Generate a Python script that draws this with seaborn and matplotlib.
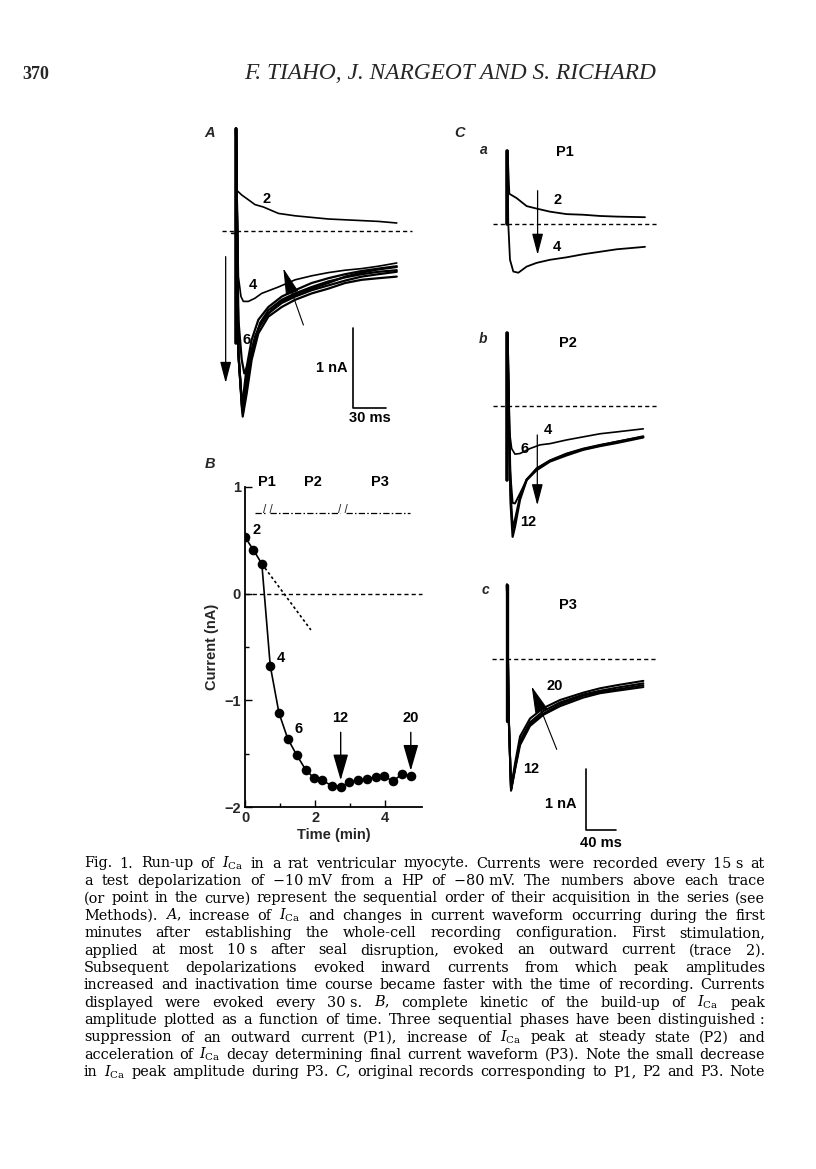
import numpy as np
import pandas as pd
import matplotlib
matplotlib.use("Agg")
import matplotlib.pyplot as plt
from matplotlib.patches import ArrowStyle
import seaborn as sns

W, H = 816, 1169

# ---------------- data: panel B (run-up of peak current) ----------------
B_time = [0.0, 0.24, 0.48, 0.72, 0.97, 1.22, 1.47, 1.73, 1.97, 2.21, 2.47, 2.73,
          2.97, 3.23, 3.48, 3.73, 3.97, 4.22, 4.48, 4.73]
B_current = [0.53, 0.41, 0.28, -0.675, -1.12, -1.36, -1.51, -1.65, -1.73, -1.75, -1.80, -1.81,
             -1.77, -1.75, -1.74, -1.72, -1.71, -1.76, -1.69, -1.71]
B_extrap_t = [0.48, 1.88]
B_extrap_i = [0.28, -0.34]
B_zero_t = [0.0, 5.05]
B_phase_y = 0.755
B_phase_segments = [(0.28, 0.57), (0.71, 2.72), (2.88, 4.70)]
B_phase_breaks = [0.64, 2.80]
B_phase_labels = ["P1", "P2", "P3"]
B_phase_label_t = [0.62, 1.95, 3.85]
B_point_labels = ["2", "4", "6"]
B_point_label_xy = [(0.33, 0.60), (1.02, -0.60), (1.53, -1.27)]
B_arrow_labels = ["12", "20"]
B_arrow_t = [2.73, 4.73]
B_arrow_from = -1.30
B_arrow_to = [-1.75, -1.66]

# ---------------- data: panel A traces (ms, nA) ----------------
A_stub_t = [-3.7, 0.0, 0.3]
A_stub_i = [-0.03, -0.03, 1.28]
A2_t = [0.3, 0.9, 5.6, 11.8, 17.9, 25.7, 39.6, 55.1, 70.5, 86.0, 101.5, 117.0, 132.4, 149.4]
A2_i = [1.28, 0.51, 0.45, 0.39, 0.33, 0.30, 0.22, 0.19, 0.17, 0.15, 0.14, 0.13, 0.12, 0.10]
A4_t = [0.3, 2.5, 4.9, 7.1, 11.8, 17.9, 24.1, 39.6, 55.1, 70.5, 86.0, 101.5, 116.9, 132.4, 149.4]
A4_i = [1.28, -0.57, -0.82, -0.88, -0.88, -0.84, -0.78, -0.70, -0.61, -0.56, -0.52, -0.49, -0.47, -0.44, -0.40]
A6_t = [0.3, 2.5, 5.6, 8.0, 11.8, 17.9, 24.1, 33.4, 42.7, 55.1, 70.5, 86.0, 101.5, 116.9, 132.4, 149.4]
A6_i = [1.28, -1.11, -1.61, -1.78, -1.66, -1.32, -1.13, -0.99, -0.88, -0.80, -0.72, -0.65, -0.57, -0.52, -0.48, -0.45]
A8_t = [0.3, 2.5, 6.5, 10.2, 14.8, 21.0, 30.3, 42.7, 55.1, 70.5, 86.0, 101.5, 116.9, 132.4, 149.4]
A8_i = [1.28, -1.53, -2.32, -2.03, -1.61, -1.28, -1.07, -0.95, -0.86, -0.78, -0.72, -0.65, -0.61, -0.59, -0.57]
A10_t = [0.3, 2.5, 6.5, 11.8, 16.4, 22.6, 30.3, 42.7, 55.1, 70.5, 86.0, 101.5, 116.9, 132.4, 149.4]
A10_i = [1.28, -1.53, -2.28, -1.78, -1.45, -1.15, -0.99, -0.86, -0.78, -0.70, -0.63, -0.58, -0.54, -0.51, -0.49]
A12_t = [0.3, 2.5, 5.9, 10.2, 14.8, 21.0, 30.3, 42.7, 55.1, 70.5, 86.0, 101.5, 116.9, 132.4, 149.4]
A12_i = [1.28, -1.53, -2.20, -1.70, -1.36, -1.11, -0.95, -0.82, -0.74, -0.65, -0.59, -0.54, -0.50, -0.47, -0.44]
A14_i = [1.28, -1.53, -2.24, -1.82, -1.49, -1.22, -1.03, -0.90, -0.82, -0.74, -0.68, -0.62, -0.57, -0.54, -0.51]
A_base_t = [-13.0, 163.3]
A_labels = ["2", "4", "6"]
A_label_xy = [(28.8, 0.40), (15.5, -0.675), (10.2, -1.36)]
A_down_arrow = ((-9.3, -0.32), (-9.3, -1.90))
A_up_arrow = ((62.8, -1.175), (44.2, -0.467))
A_bar_t, A_bar_i = 109.2, -2.217
A_bar_len_ms, A_bar_len_nA = 30, 1

# ---------------- data: panel C traces (ms, nA) ----------------
Ca2_t = [0.3, 2.7, 12.4, 25.8, 39.1, 56.9, 79.1, 101.3, 123.6, 145.8, 183.6]
Ca2_i = [1.19, 0.49, 0.42, 0.29, 0.25, 0.20, 0.16, 0.15, 0.13, 0.12, 0.11]
Ca4_t = [0.3, 1.3, 3.6, 8.0, 14.7, 25.8, 39.1, 56.9, 79.1, 101.3, 123.6, 145.8, 183.6]
Ca4_i = [1.19, 0.0, -0.58, -0.77, -0.79, -0.69, -0.63, -0.58, -0.54, -0.49, -0.45, -0.41, -0.37]

Cb4_t = [0.3, 2.7, 5.8, 10.2, 16.9, 30.2, 43.6, 56.9, 79.1, 101.3, 123.6, 145.8, 181.3]
Cb4_i = [1.18, -0.39, -0.69, -0.78, -0.77, -0.69, -0.63, -0.61, -0.55, -0.50, -0.45, -0.42, -0.37]
Cb6_t = [0.3, 3.6, 7.1, 10.2, 16.9, 25.8, 39.1, 56.9, 79.1, 101.3, 123.6, 145.8, 181.3]
Cb6_i = [1.18, -1.04, -1.57, -1.58, -1.42, -1.20, -1.01, -0.88, -0.77, -0.69, -0.63, -0.58, -0.49]
Cb8_t = [0.3, 4.4, 7.1, 10.2, 16.9, 25.8, 39.1, 56.9, 79.1, 101.3, 123.6, 145.8, 181.3]
Cb8_i = [1.18, -1.42, -1.98, -1.85, -1.47, -1.19, -1.02, -0.89, -0.78, -0.70, -0.64, -0.58, -0.50]
Cb12_i = [1.18, -1.58, -2.12, -1.96, -1.52, -1.20, -1.04, -0.90, -0.80, -0.71, -0.65, -0.60, -0.51]

Cc_t = [0.3, 2.7, 5.8, 11.1, 17.8, 31.1, 48.9, 71.1, 102.2, 124.4, 146.7, 182.2]
Cc12_i = [1.21, -0.93, -2.13, -1.79, -1.39, -1.08, -0.90, -0.76, -0.62, -0.55, -0.51, -0.45]
Cc14_i = [1.21, -0.93, -2.12, -1.77, -1.35, -1.05, -0.88, -0.73, -0.59, -0.53, -0.49, -0.42]
Cc16_i = [1.21, -0.93, -2.11, -1.75, -1.32, -1.02, -0.84, -0.70, -0.57, -0.51, -0.46, -0.39]
Cc20_i = [1.21, -0.93, -2.08, -1.69, -1.25, -0.96, -0.79, -0.66, -0.54, -0.47, -0.42, -0.35]
C_base_t = [-19.5, 201.5]
Ca_labels = ["2", "4"]; Ca_label_xy = [(66.7, 0.39), (66.7, -0.38)]
Ca_arrow = ((40.4, 0.54), (40.4, -0.50))
Cb_labels = ["4", "6", "12"]; Cb_label_xy = [(53.8, -0.39), (23.6, -0.69), (28.0, -1.88)]
Cb_arrow = ((40.0, -0.47), (40.0, -1.61))
Cc_labels = ["20", "12"]; Cc_label_xy = [(64.4, -0.44), (33.3, -1.77)]
Cc_arrow = ((66.7, -1.46), (33.3, -0.44))
Cc_bar_t, Cc_bar_i = 105.3, -2.77
Cc_bar_len_ms, Cc_bar_len_nA = 40, 1

# ---------------- text ----------------
page_number = "370"
running_head = "F. TIAHO, J. NARGEOT AND S. RICHARD"
ICa = r"$I_{\mathrm{Ca}}$"
NB = "\u00a0"
caption_lines = [
    f"Fig. 1. Run-up of {ICa} in a rat ventricular myocyte. Currents were recorded every 15{NB}s at",
    f"a test depolarization of \u221210{NB}mV from a HP of \u221280{NB}mV. The numbers above each trace",
    "(or point in the curve) represent the sequential order of their acquisition in the series (see",
    f"Methods). $A$, increase of {ICa} and changes in current waveform occurring during the first",
    "minutes after establishing the whole-cell recording configuration. First stimulation,",
    f"applied at most 10{NB}s after seal disruption, evoked an outward current (trace 2).",
    "Subsequent depolarizations evoked inward currents from which peak amplitudes",
    "increased and inactivation time course became faster with the time of recording. Currents",
    f"displayed were evoked every 30{NB}s. $B$, complete kinetic of the build-up of {ICa} peak",
    f"amplitude plotted as a function of time. Three sequential phases have been distinguished{NB}:",
    f"suppression of an outward current (P1), increase of {ICa} peak at steady state (P2) and",
    f"acceleration of {ICa} decay determining final current waveform (P3). Note the small decrease",
    f"in {ICa} peak amplitude during P3. $C$, original records corresponding to P1, P2 and P3. Note",
]

# ---------------- style ----------------
sns.set_theme(style="white")
plt.rcParams["font.family"] = ["Liberation Sans", "DejaVu Sans"]
plt.rcParams["mathtext.fontset"] = "dejavuserif"
plt.rcParams["axes.unicode_minus"] = True
SANS = ["Liberation Sans", "DejaVu Sans"]
LAB = dict(family=SANS, fontsize=10.5, fontweight="bold", color="black")

fig = plt.figure(figsize=(W / 100, H / 100), dpi=100)
fig.patch.set_facecolor("white")


def px_axes(box):
    x0, y0, x1, y1 = box
    ax = fig.add_axes([x0 / W, 1 - y1 / H, (x1 - x0) / W, (y1 - y0) / H])
    ax.set_facecolor("none")
    return ax


def trace_axes(box, origin, scale):
    ax = px_axes(box)
    x0, y0, x1, y1 = box
    ox, oy = origin
    sx, sy = scale
    ax.set_xlim((x0 - ox) / sx, (x1 - ox) / sx)
    ax.set_ylim((oy - y1) / sy, (oy - y0) / sy)
    ax.axis("off")
    return ax


def trace(ax, t, i, lw=1.4):
    sns.lineplot(x=t, y=i, ax=ax, color="black", lw=lw, sort=False,
                 estimator=None, legend=False)


def arrow(ax, start, end, hl=1.0, hw=0.26, lw=0.9):
    ax.annotate("", xy=end, xytext=start,
                arrowprops=dict(arrowstyle=ArrowStyle("-|>", head_length=hl, head_width=hw),
                                mutation_scale=13, lw=lw, color="black",
                                shrinkA=0, shrinkB=0), annotation_clip=False)


def baseline(ax, ts):
    ax.plot(ts, [0, 0], color="black", lw=1.0, ls=(0, (3, 2.2)))


# ---------------- panel A ----------------
axA = trace_axes((200, 120, 430, 440), (235.7, 231.0), (1.078, 80.0))
baseline(axA, A_base_t)
trace(axA, A_stub_t, A_stub_i, lw=1.2)
for t, i in [(A8_t, A8_i), (A10_t, A10_i), (A12_t, A14_i), (A12_t, A12_i), (A6_t, A6_i)]:
    trace(axA, t, i, lw=1.6)
trace(axA, A4_t, A4_i, lw=1.2)
trace(axA, A2_t, A2_i, lw=1.2)
axA.plot([0.15, 0.15], [1.28, -1.4], color="black", lw=2.6)
for s, (x, y) in zip(A_labels, A_label_xy):
    axA.text(x, y, s, ha="center", va="center", **LAB)
arrow(axA, *A_down_arrow)
arrow(axA, *A_up_arrow, hl=1.3, hw=0.32, lw=0.8)
axA.plot([A_bar_t, A_bar_t, A_bar_t + A_bar_len_ms],
         [A_bar_i + A_bar_len_nA, A_bar_i, A_bar_i], color="black", lw=1.2)
axA.text(A_bar_t - 5, A_bar_i + 0.5 * A_bar_len_nA, "1 nA", ha="right", va="center", **LAB)
axA.text(A_bar_t + 0.5 * A_bar_len_ms, A_bar_i - 0.12, "30 ms", ha="center", va="center", **LAB)

# ---------------- panel C ----------------
axCa = trace_axes((480, 130, 680, 310), (507.3, 224.0), (0.75, 61.7))
baseline(axCa, C_base_t)
trace(axCa, Ca4_t, Ca4_i, lw=1.3)
trace(axCa, Ca2_t, Ca2_i, lw=1.3)
axCa.plot([0.2, 0.2], [1.19, 0.0], color="black", lw=2.6)
for s, (x, y) in zip(Ca_labels, Ca_label_xy):
    axCa.text(x, y, s, ha="center", va="center", **LAB)
axCa.text(76.9, 1.17, "P1", ha="center", va="center", **LAB)
arrow(axCa, *Ca_arrow)

axCb = trace_axes((480, 325, 680, 560), (507.3, 406.0), (0.75, 61.7))
baseline(axCb, C_base_t)
trace(axCb, Cb8_t, Cb12_i, lw=1.6)
trace(axCb, Cb8_t, Cb8_i, lw=1.6)
trace(axCb, Cb6_t, Cb6_i, lw=1.4)
trace(axCb, Cb4_t, Cb4_i, lw=1.2)
axCb.plot([0.2, 0.2], [1.18, -1.2], color="black", lw=2.6)
for s, (x, y) in zip(Cb_labels, Cb_label_xy):
    axCb.text(x, y, s, ha="center", va="center", **LAB)
axCb.text(81.3, 1.02, "P2", ha="center", va="center", **LAB)
arrow(axCb, *Cb_arrow)

axCc = trace_axes((480, 575, 680, 850), (506.7, 659.3), (0.75, 61.7))
baseline(axCc, C_base_t)
for ci in [Cc12_i, Cc14_i, Cc16_i, Cc20_i]:
    trace(axCc, Cc_t, ci, lw=1.5)
axCc.plot([0.2, 0.2], [1.21, -1.0], color="black", lw=2.4)
for s, (x, y) in zip(Cc_labels, Cc_label_xy):
    axCc.text(x, y, s, ha="center", va="center", **LAB)
axCc.text(82.2, 0.88, "P3", ha="center", va="center", **LAB)
arrow(axCc, *Cc_arrow, hl=1.3, hw=0.32, lw=0.8)
axCc.plot([Cc_bar_t, Cc_bar_t, Cc_bar_t + Cc_bar_len_ms],
          [Cc_bar_i + Cc_bar_len_nA, Cc_bar_i, Cc_bar_i], color="black", lw=1.2)
axCc.text(Cc_bar_t - 12, Cc_bar_i + 0.43, "1 nA", ha="right", va="center", **LAB)
axCc.text(Cc_bar_t + 0.5 * Cc_bar_len_ms, Cc_bar_i - 0.21, "40 ms", ha="center", va="center", **LAB)

# ---------------- panel B ----------------
axB = px_axes((245, 487, 422, 807))
dfB = pd.DataFrame({"Time (min)": B_time, "Current (nA)": B_current})
sns.lineplot(data=dfB, x="Time (min)", y="Current (nA)", ax=axB, color="black",
             lw=1.2, sort=False, estimator=None)
sns.scatterplot(data=dfB, x="Time (min)", y="Current (nA)", ax=axB, color="black",
                s=48, edgecolor="black", linewidth=0, zorder=5)
axB.plot(B_extrap_t, B_extrap_i, color="black", lw=1.2, ls=(0, (1.6, 1.6)))
axB.plot(B_zero_t, [0, 0], color="black", lw=1.0, ls=(0, (3, 2.2)), clip_on=False)
for a, b in B_phase_segments:
    axB.plot([a, b], [B_phase_y, B_phase_y], color="black", lw=0.9,
             ls=(0, (5, 1.8, 1.2, 1.8)), clip_on=False)
for bt in B_phase_breaks:
    axB.text(bt, B_phase_y + 0.025, "/ /", ha="center", va="center",
             family=SANS, fontsize=8.5, clip_on=False)
for s, t in zip(B_phase_labels, B_phase_label_t):
    axB.text(t, 1.05, s, ha="center", va="center", clip_on=False, **LAB)
for s, (x, y) in zip(B_point_labels, B_point_label_xy):
    axB.text(x, y, s, ha="center", va="center", **LAB)
for s, t, yto in zip(B_arrow_labels, B_arrow_t, B_arrow_to):
    arrow(axB, (t, B_arrow_from), (t, yto), hl=1.25, hw=0.36, lw=1.0)
    axB.text(t, B_arrow_from + 0.07, s, ha="center", va="bottom", **LAB)
axB.set_xlim(0, 5.05)
axB.set_ylim(-2, 1)
axB.set_xticks([0, 2, 4])
axB.set_xticks([1, 3], minor=True)
axB.set_yticks([-2, -1, 0, 1])
axB.set_yticks([-1.5, -0.5, 0.5], minor=True)
axB.set_yticklabels(["\u22122", "\u22121", "0", "1"])
axB.tick_params(which="both", direction="in", color="black", width=1.0,
                labelsize=10.5, pad=3, bottom=True, left=True)
axB.tick_params(which="major", length=5)
axB.tick_params(which="minor", length=3)
for lbl in axB.get_xticklabels() + axB.get_yticklabels():
    lbl.set_fontweight("bold")
axB.set_xlabel("Time (min)", fontsize=10.5, fontweight="bold", labelpad=2)
axB.set_ylabel("Current (nA)", fontsize=10.5, fontweight="bold", labelpad=4)
for side in ["top", "right"]:
    axB.spines[side].set_visible(False)
for side in ["left", "bottom"]:
    axB.spines[side].set_color("black")
    axB.spines[side].set_linewidth(1.3)

# ---------------- panel letters ----------------
for s, (x, y) in {"A": (210, 133), "B": (210, 464), "C": (460, 133)}.items():
    fig.text(x / W, 1 - y / H, s, ha="center", va="center", family=SANS,
             fontsize=10.5, style="italic", fontweight="bold")
for s, (x, y) in {"a": (484, 150), "b": (483, 339), "c": (485, 590)}.items():
    fig.text(x / W, 1 - y / H, s, ha="center", va="center", family=SANS,
             fontsize=10, style="italic", fontweight="bold")

# ---------------- running head & caption ----------------
renderer = fig.canvas.get_renderer()
SERIF = ["DejaVu Serif"]

fig.text(22 / W, 1 - 79 / H, page_number, ha="left", va="baseline",
         family=["Liberation Serif"], fontsize=13, fontweight="bold")
head = fig.text(450 / W, 1 - 79 / H, running_head, ha="center", va="baseline",
                family=["Liberation Serif"], fontsize=13, style="italic")
hw_ = head.get_window_extent(renderer).width
head.set_fontsize(13 * 410 / hw_)

X0, X1 = 84, 765
base0, pitch = 867.5, 17.4
fs0 = 10.0
probe = [fig.text(0, 0, ln.replace(NB, " "), family=SERIF, fontsize=fs0) for ln in caption_lines]
maxw = max(p.get_window_extent(renderer).width for p in probe)
for p in probe:
    p.remove()
fs = fs0 * (X1 - X0) * 0.985 / maxw

for k, ln in enumerate(caption_lines):
    words = ln.split(" ")
    y = 1 - (base0 + k * pitch) / H
    objs = [fig.text(0, y, w, family=SERIF, fontsize=fs, ha="left", va="baseline",
                     color="black") for w in words]
    widths = [o.get_window_extent(renderer).width for o in objs]
    gap = (X1 - X0 - sum(widths)) / max(len(words) - 1, 1)
    x = X0
    for o, w in zip(objs, widths):
        o.set_x(x / W)
        x += w + gap

fig.savefig("out.png", dpi=100, facecolor="white")
